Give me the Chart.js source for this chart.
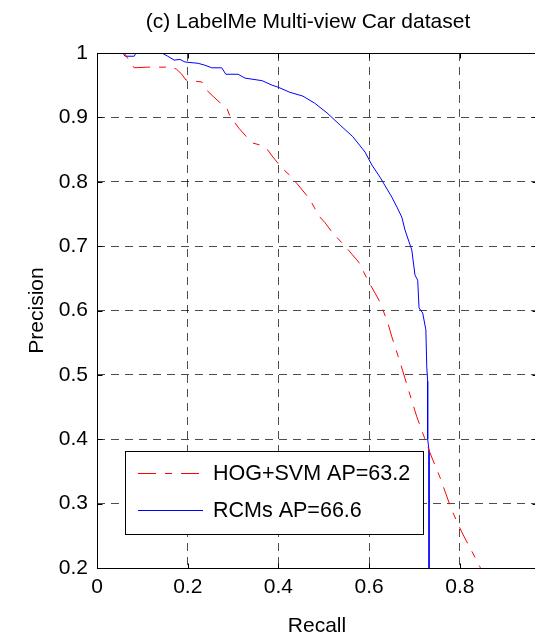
<!DOCTYPE html>
<html>
<head>
<meta charset="utf-8">
<script src="https://cdn.jsdelivr.net/npm/chart.js@4.4.0/dist/chart.umd.min.js"></script>
<style>
html, body { margin: 0; padding: 0; background: #fff; overflow: hidden; }
#wrap { width: 535px; height: 635px; overflow: hidden; position: relative; }
canvas { display: block; }
</style>
</head>
<body>
<div id="wrap"><canvas id="prChart" width="540" height="637"></canvas></div>
<script>
const chartTitle = "(c) LabelMe Multi-view Car dataset";
const seriesNames = ["HOG+SVM AP=63.2", "RCMs AP=66.6"];
const xTickValues = [0, 0.2, 0.4, 0.6, 0.8];
const xTickLabels = ["0", "0.2", "0.4", "0.6", "0.8"];
const yTickValues = [0.2, 0.3, 0.4, 0.5, 0.6, 0.7, 0.8, 0.9, 1];
const yTickLabels = ["0.2", "0.3", "0.4", "0.5", "0.6", "0.7", "0.8", "0.9", "1"];

// HOG+SVM curve (red, dashed)
const hogRecall = [0, 0.06, 0.073, 0.082, 0.112, 0.150, 0.159, 0.175, 0.187, 0.196, 0.231, 0.245, 0.260, 0.287, 0.293,
    0.313, 0.332, 0.344, 0.360, 0.377, 0.386, 0.408, 0.425, 0.441, 0.469, 0.489, 0.502, 0.520, 0.547, 0.577, 0.597,
    0.624, 0.641, 0.650, 0.668, 0.690, 0.705, 0.734, 0.756, 0.782, 0.804, 0.844, 0.850];
const hogPrecision = [1, 1, 0.986, 0.977, 0.978, 0.978, 0.980, 0.975, 0.967, 0.958, 0.955, 0.940, 0.930, 0.913, 0.902,
    0.883, 0.868, 0.860, 0.857, 0.849, 0.840, 0.821, 0.810, 0.797, 0.773, 0.747, 0.737, 0.720, 0.700, 0.675, 0.647,
    0.613, 0.581, 0.559, 0.520, 0.469, 0.435, 0.379, 0.341, 0.290, 0.256, 0.202, 0.192];

// RCMs curve (blue, solid)
const rcmRecall = [0, 0.057, 0.062, 0.082, 0.086, 0.143, 0.156, 0.170, 0.183, 0.194, 0.223, 0.238, 0.253, 0.275, 0.284,
    0.311, 0.326, 0.364, 0.386, 0.399, 0.425, 0.454, 0.480, 0.507, 0.536, 0.564, 0.591, 0.606, 0.624, 0.650, 0.661,
    0.672, 0.679, 0.694, 0.701, 0.707, 0.710, 0.718, 0.725, 0.727, 0.729, 0.729, 0.732, 0.732];
const rcmPrecision = [1, 1, 0.995, 0.995, 1, 1, 0.995, 0.989, 0.990, 0.986, 0.984, 0.981, 0.977, 0.977, 0.967,
    0.967, 0.961, 0.957, 0.950, 0.947, 0.939, 0.933, 0.922, 0.907, 0.888, 0.870, 0.846, 0.826, 0.807, 0.776, 0.761,
    0.745, 0.725, 0.694, 0.655, 0.647, 0.604, 0.596, 0.570, 0.512, 0.490, 0.400, 0.383, 0.190];

const fontFamily = '"Liberation Sans", Arial, Helvetica, sans-serif';
const baseFont = { family: fontFamily, size: 21, lineHeight: 1 };

const toPoints = (xs, ys)=>{
    let pts = [];
    for(let i = 0; i < xs.length; i++){
        pts.push({ x: xs[i], y: ys[i] });
    }
    return pts;
}

// frame, inward ticks, title and legend box, the matlab look
const matlabFrame = {
    id: 'matlabFrame',
    afterDraw: (chart)=>{
        const ctx = chart.ctx;
        const a = chart.chartArea;
        const xs = chart.scales.x;
        const ys = chart.scales.y;
        const L = Math.round(a.left) + 0.5, R = Math.round(a.right) + 0.5;
        const T = Math.round(a.top) + 0.5, B = Math.round(a.bottom) + 0.5;

        ctx.save();
        ctx.strokeStyle = '#000';
        ctx.lineWidth = 1;
        ctx.setLineDash([]);
        ctx.strokeRect(L, T, R - L, B - T);

        ctx.beginPath();
        for(let i = 0; i < xTickValues.length; i++){
            let px = Math.round(xs.getPixelForValue(xTickValues[i])) + 0.5;
            ctx.moveTo(px, B); ctx.lineTo(px, B - 5);
            ctx.moveTo(px, T); ctx.lineTo(px, T + 5);
        }
        for(let i = 0; i < yTickValues.length; i++){
            let py = Math.round(ys.getPixelForValue(yTickValues[i])) + 0.5;
            ctx.moveTo(L, py); ctx.lineTo(L + 5, py);
            ctx.moveTo(R, py); ctx.lineTo(R - 5, py);
        }
        ctx.stroke();

        // title
        ctx.fillStyle = '#000';
        ctx.font = `21px ${fontFamily}`;
        ctx.textAlign = 'center';
        ctx.textBaseline = 'middle';
        ctx.fillText(chartTitle, (a.left + a.right) / 2 - 9, 22);

        // legend
        const bx = 125.5, by = 451.5, bw = 298, bh = 83;
        ctx.fillStyle = '#fff';
        ctx.fillRect(bx, by, bw, bh);
        ctx.strokeStyle = '#000';
        ctx.strokeRect(bx, by, bw, bh);
        const rows = [473, 510];
        const sets = chart.data.datasets;
        ctx.font = `21.5px ${fontFamily}`;
        for(let i = 0; i < sets.length; i++){
            ctx.beginPath();
            ctx.strokeStyle = sets[i].borderColor;
            ctx.setLineDash(sets[i].borderDash || []);
            ctx.moveTo(138, rows[i] + 0.5);
            ctx.lineTo(203, rows[i] + 0.5);
            ctx.stroke();
            ctx.setLineDash([]);
            ctx.fillStyle = '#000';
            ctx.textAlign = 'left';
            ctx.fillText(sets[i].label, 213, rows[i] + 1);
        }
        ctx.restore();
    }
}

const prChart = new Chart(document.getElementById('prChart'), {
    type: 'scatter',
    data: {
        datasets: [{
            label: seriesNames[0],
            data: toPoints(hogRecall, hogPrecision),
            showLine: true,
            borderColor: '#ff0000',
            borderWidth: 1,
            borderDash: [18, 9, 7, 9],
            pointRadius: 0,
            tension: 0,
            fill: false
        }, {
            label: seriesNames[1],
            data: toPoints(rcmRecall, rcmPrecision),
            showLine: true,
            borderColor: '#0000ff',
            borderWidth: 1,
            pointRadius: 0,
            tension: 0,
            fill: false
        }]
    },
    options: {
        responsive: false,
        animation: false,
        events: [],
        layout: { padding: { top: 53, right: 3, left: 0, bottom: 0 } },
        plugins: {
            legend: { display: false },
            tooltip: { enabled: false }
        },
        scales: {
            x: {
                type: 'linear',
                min: 0,
                max: 0.97,
                afterBuildTicks: (s)=>{ s.ticks = xTickValues.map(v => ({ value: v })); },
                afterFit: (s)=>{ s.height = 69; },
                ticks: {
                    color: '#000',
                    font: baseFont,
                    padding: 9,
                    maxRotation: 0,
                    autoSkip: false,
                    callback: (v, i)=> xTickLabels[i]
                },
                grid: { color: 'rgba(0,0,0,0.7)', lineWidth: 1, drawTicks: false },
                border: { display: false, dash: [8, 6] },
                title: { display: true, text: 'Recall', color: '#000', font: baseFont, padding: { top: 0, bottom: 0 } }
            },
            y: {
                type: 'linear',
                min: 0.2,
                max: 1,
                afterBuildTicks: (s)=>{ s.ticks = yTickValues.map(v => ({ value: v })); },
                afterFit: (s)=>{ s.width = 97; },
                ticks: {
                    color: '#000',
                    font: baseFont,
                    padding: 9,
                    autoSkip: false,
                    callback: (v, i)=> yTickLabels[i]
                },
                grid: { color: 'rgba(0,0,0,0.7)', lineWidth: 1, drawTicks: false },
                border: { display: false, dash: [8, 6] },
                title: { display: true, text: 'Precision', color: '#000', font: baseFont, padding: { top: 27, bottom: 0 } }
            }
        }
    },
    plugins: [matlabFrame]
});
</script>
</body>
</html>
